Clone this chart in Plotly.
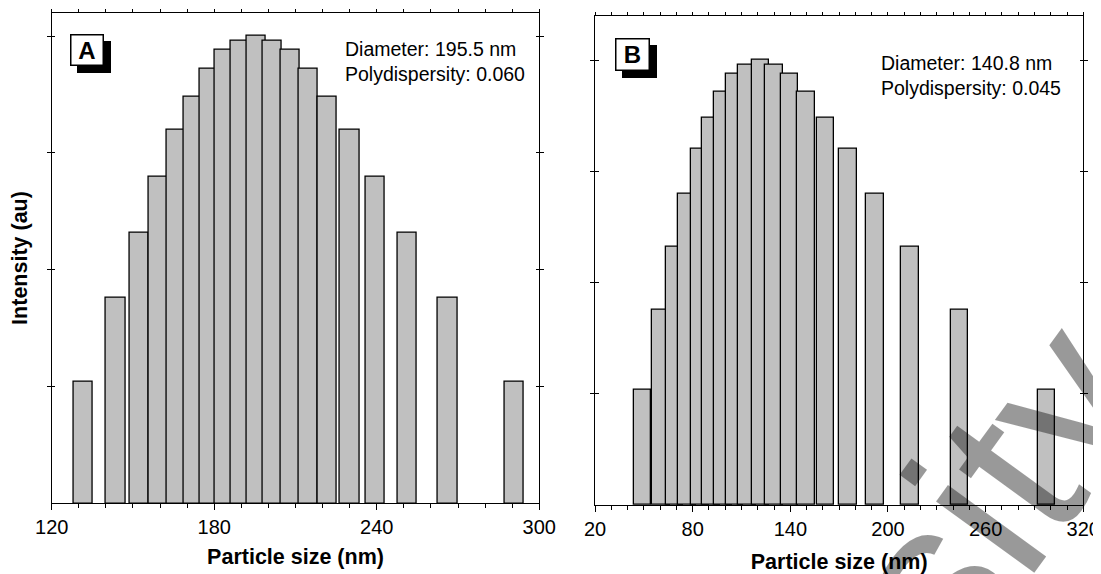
import plotly.graph_objects as go

# ---- data ----
intensity = [5.2, 8.8, 11.6, 14.0, 16.0, 17.4, 18.6, 19.4, 19.8, 20.0,
             19.8, 19.4, 18.6, 17.4, 16.0, 14.0, 11.6, 8.8, 5.2]
size_a = [131.5, 143.6, 152.3, 159.3, 165.9, 172.2, 178.1, 183.8, 189.6, 195.5,
          201.4, 208.0, 214.6, 221.8, 230.0, 239.5, 251.1, 266.2, 290.6]
size_b = [49.3, 60.5, 68.8, 76.6, 84.4, 91.4, 98.6, 105.8, 113.4, 121.7,
          129.9, 139.6, 149.8, 161.7, 175.4, 192.1, 213.5, 244.0, 297.3]
ticks_a = [120, 180, 240, 300]
ticks_b = [20, 80, 140, 200, 260, 320]
label_a = "Diameter: 195.5 nm<br>Polydispersity: 0.060"
label_b = "Diameter: 140.8 nm<br>Polydispersity: 0.045"

# the page body has a default 8px margin; the figure is sized to fit the window
OFF = 8
W, H = 1101 - OFF, 574 - OFF
FONT = "Liberation Sans, Arial, sans-serif"

def px(x):
    return (x - OFF) / W

def py(y):
    return 1 - (y - OFF) / H

fig = go.Figure()
bar_style = dict(marker=dict(color="#c0c0c0", line=dict(color="black", width=1.3)),
                 showlegend=False, hoverinfo="x+y")
fig.add_trace(go.Bar(x=size_a, y=intensity, width=7.1, xaxis="x", yaxis="y", **bar_style))
fig.add_trace(go.Bar(x=size_b, y=intensity, width=10.8, xaxis="x2", yaxis="y2", **bar_style))
# invisible traces to carry the top tick axes
fig.add_trace(go.Scatter(x=[ticks_a[0]], y=[0], xaxis="x3", yaxis="y", mode="markers",
                         marker=dict(opacity=0), showlegend=False, hoverinfo="skip"))
fig.add_trace(go.Scatter(x=[ticks_b[0]], y=[0], xaxis="x4", yaxis="y2", mode="markers",
                         marker=dict(opacity=0), showlegend=False, hoverinfo="skip"))

def xaxis(dom, rng, tickvals, anchor, title, standoff):
    return dict(domain=dom, range=rng, anchor=anchor, tickmode="array", tickvals=tickvals,
                ticktext=[str(t) for t in tickvals], ticks="outside", ticklen=6, tickwidth=1.3,
                tickcolor="black", showline=True, linecolor="black", linewidth=1.3,
                mirror=True, showgrid=False, zeroline=False, automargin=False,
                minor=dict(dtick=10, tick0=rng[0], ticks="outside", ticklen=3.5,
                           tickwidth=1.2, tickcolor="black", showgrid=False),
                tickfont=dict(family=FONT, size=20, color="black"),
                title=dict(text=title, font=dict(family=FONT, size=21.5, color="black"),
                           standoff=standoff))

def topaxis(rng, overlay, anchor):
    return dict(overlaying=overlay, side="top", range=rng, anchor=anchor,
                tickmode="linear", tick0=rng[0], dtick=10, ticks="outside", ticklen=2.5,
                tickwidth=1, tickcolor="black", showticklabels=False, showline=False,
                showgrid=False, zeroline=False, automargin=False)

def yaxis(dom, rng, anchor, title):
    d = dict(domain=dom, range=rng, anchor=anchor, tickmode="linear", tick0=0, dtick=5,
             ticks="inside", ticklen=3.5, tickwidth=1.2, tickcolor="black",
             showticklabels=False, showline=True, linecolor="black", linewidth=1.3,
             mirror="allticks", showgrid=False, zeroline=False, automargin=False)
    if title:
        d["title"] = dict(text=title, font=dict(family=FONT, size=21.5, color="black"),
                          standoff=18)
    return d

rng_a = [120, 300]
rng_b = [20, 320]
fig.update_layout(
    width=W, height=H, margin=dict(l=0, r=0, t=0, b=0, autoexpand=False),
    paper_bgcolor="white", plot_bgcolor="white", bargap=0,
    font=dict(family=FONT, color="black"),
    xaxis=xaxis([px(51.7), px(539.3)], rng_a, ticks_a, "y", "<b>Particle size (nm)</b>", 11),
    xaxis2=xaxis([px(595), px(1083.3)], rng_b, ticks_b, "y2", "<b>Particle size (nm)</b>", 19),
    xaxis3=topaxis(rng_a, "x", "y"),
    xaxis4=topaxis(rng_b, "x2", "y2"),
    yaxis=yaxis([py(503.3), py(12.7)], [0, 21.0], "x", "<b>Intensity (au)</b>"),
    yaxis2=yaxis([py(505), py(15.7)], [0, 22.0], "x2", None),
)

ann = []
# panel letter boxes with drop shadow
for letter, x0, y0, w, h, off in [("A", 70, 34.3, 34, 32.4, 6.7), ("B", 615, 38.3, 35, 32.7, 6.5)]:
    for dx, bg in [(off, "black"), (0, "white")]:
        ann.append(dict(text="<b>%s</b>" % letter, xref="paper", yref="paper",
                        x=px(x0 + dx), y=py(y0 + dx), xanchor="left", yanchor="top",
                        showarrow=False, width=w - 3, height=h - 3, borderpad=0,
                        bgcolor=bg, bordercolor="black", borderwidth=1.5,
                        font=dict(family=FONT, size=24, color="black")))
ann.append(dict(text=label_a, xref="paper", yref="paper", x=px(342.5), y=py(61),
                xanchor="left", yanchor="middle", align="left", showarrow=False,
                font=dict(family=FONT, size=19.5, color="black")))
ann.append(dict(text=label_b, xref="paper", yref="paper", x=px(878.5), y=py(75.8),
                xanchor="left", yanchor="middle", align="left", showarrow=False,
                font=dict(family=FONT, size=19.5, color="black")))
# watermark fragment
ann.append(dict(text="sity", xref="paper", yref="paper", x=px(994), y=py(492),
                xanchor="center", yanchor="middle", showarrow=False, textangle=-54,
                font=dict(family=FONT, size=230, color="rgba(0,0,0,0.4)")))
fig.update_layout(annotations=ann)

fig.write_html("out.html")
